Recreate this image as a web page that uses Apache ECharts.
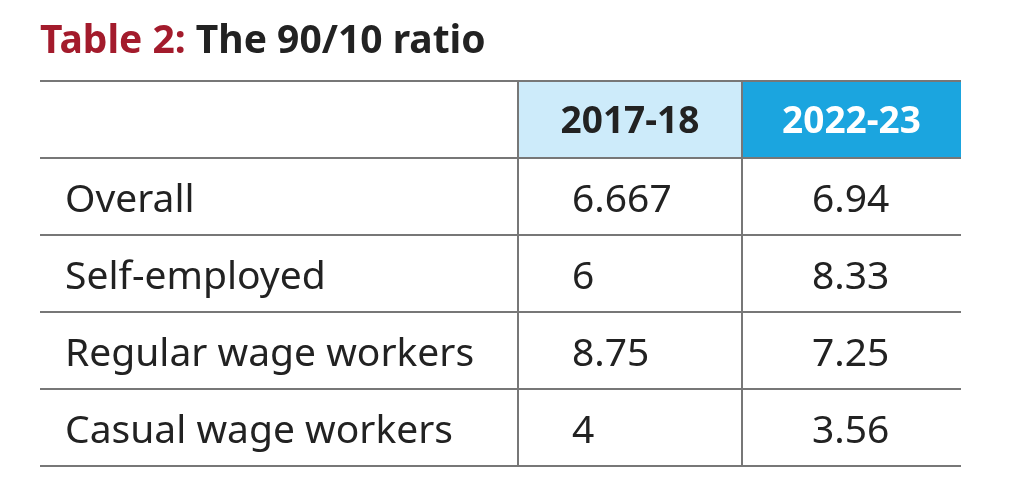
<!DOCTYPE html>
<html><head><meta charset="utf-8">
<script src="https://cdn.jsdelivr.net/npm/echarts@6/dist/echarts.min.js"></script>
<style>html,body{margin:0;padding:0;background:#fff}#c{width:1024px;height:479px}</style>
</head><body><div id="c"></div>
<script>
var titlePrefix = "Table 2:";
var titleText = " The 90/10 ratio";
var years = ["2017-18", "2022-23"];
var categories = ["Overall", "Self-employed", "Regular wage workers", "Casual wage workers"];
var values2017 = ["6.667", "6", "8.75", "4"];
var values2022 = ["6.94", "8.33", "7.25", "3.56"];

var chart = echarts.init(document.getElementById('c'));
var L = 40, R = 961, C1 = 518, C2 = 742, T = 81, rowH = 77;
var font = '"Noto Sans", "Open Sans", sans-serif';
var g = [];
g.push({type:'rect', shape:{x:C1, y:T, width:C2-C1, height:rowH}, style:{fill:'#cdebfa'}});
g.push({type:'rect', shape:{x:C2, y:T, width:R-C2, height:rowH}, style:{fill:'#1ba5df'}});
g.push({type:'text', x:L, y:42, style:{rich:{a:{fill:'#a31b2c',font:'bold 39px '+font},b:{fill:'#222',font:'bold 39px '+font}}, text:'{a|'+titlePrefix+'}{b|'+titleText+'}', verticalAlign:'middle'}});
years.forEach(function(y,i){
  var x0 = i===0?C1:C2, x1 = i===0?C2:R;
  g.push({type:'text', x:(x0+x1)/2, y:T+rowH/2+3, style:{text:y, fill:i===0?'#222':'#fff', font:'bold 37px '+font, align:'center', verticalAlign:'middle'}});
});
var nRows = categories.length;
for (var r=0; r<=nRows+1; r++) {
  g.push({type:'line', shape:{x1:L, y1:T+r*rowH, x2:R, y2:T+r*rowH}, style:{stroke:'#777', lineWidth:2}});
}
[C1, C2].forEach(function(x){
  g.push({type:'line', shape:{x1:x, y1:T, x2:x, y2:T+(nRows+1)*rowH}, style:{stroke:'#777', lineWidth:2}});
});
categories.forEach(function(c,i){
  var yc = T+(i+1)*rowH+rowH/2+4;
  g.push({type:'text', x:65, y:yc, style:{text:c, fill:'#222', font:'39px '+font, verticalAlign:'middle'}});
  g.push({type:'text', x:572, y:yc, style:{text:values2017[i], fill:'#222', font:'39px '+font, verticalAlign:'middle'}});
  g.push({type:'text', x:812, y:yc, style:{text:values2022[i], fill:'#222', font:'39px '+font, verticalAlign:'middle'}});
});
chart.setOption({animation:false, graphic:g});
</script></body></html>
